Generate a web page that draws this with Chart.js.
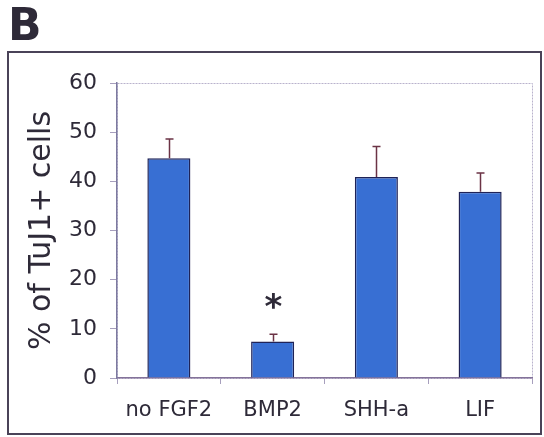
<!DOCTYPE html>
<html>
<head>
<meta charset="utf-8">
<script src="https://cdn.jsdelivr.net/npm/chart.js@4"></script>
<style>
  html, body { margin: 0; padding: 0; background: #fff; }
  #wrap { width: 544px; height: 437px; position: relative; }
</style>
</head>
<body>
<div id="wrap"><canvas id="chart" width="544" height="437"></canvas></div>
<script>
// データ
const categories = ['no FGF2', 'BMP2', 'SHH-a', 'LIF'];
const meanValues = [44.7, 7.4, 40.9, 37.9];
const errorValues = [3.9, 1.5, 6.2, 3.8];
const significance = ['', '*', '', ''];
const yTicks = [0, 10, 20, 30, 40, 50, 60];

const panelLetter = 'B';
const yTitle = '% of TuJ1+ cells';
const textColor = '#2e2a38';
const fontFamily = '"DejaVu Sans", Verdana, sans-serif';

// 枠・パネル文字
const framePlugin = {
    id: 'frame',
    beforeDraw: function (chart) {
        const ctx = chart.ctx;
        const a = chart.chartArea;
        ctx.save();
        ctx.fillStyle = textColor;
        ctx.font = 'bold 44px ' + fontFamily;
        ctx.textBaseline = 'alphabetic';
        ctx.fillText(panelLetter, 8, 40);

        ctx.strokeStyle = '#4a4358';
        ctx.lineWidth = 2;
        ctx.strokeRect(8, 52, 533, 382);

        ctx.strokeStyle = '#b9b2cc';
        ctx.lineWidth = 1;
        ctx.setLineDash([2, 1]);
        ctx.strokeRect(a.left + 0.5, a.top + 0.5, a.right - a.left, a.bottom - a.top);
        ctx.restore();
    }
};

// エラーバーと有意差マーク
const errorBarPlugin = {
    id: 'errorBars',
    afterDatasetsDraw: function (chart) {
        const ctx = chart.ctx;
        const yScale = chart.scales.y;
        const meta = chart.getDatasetMeta(0);
        ctx.save();
        meta.data.forEach(function (bar, i) {
            const yTop = yScale.getPixelForValue(meanValues[i] + errorValues[i]);
            const yBar = yScale.getPixelForValue(meanValues[i]);
            const x = Math.round(bar.x) + 0.5;
            ctx.strokeStyle = '#6b3345';
            ctx.lineWidth = 1.5;
            ctx.beginPath();
            ctx.moveTo(x, yBar);
            ctx.lineTo(x, yTop);
            ctx.moveTo(x - 4, yTop);
            ctx.lineTo(x + 4, yTop);
            ctx.stroke();

            if (significance[i]) {
                ctx.fillStyle = textColor;
                ctx.font = 'bold 34px ' + fontFamily;
                ctx.textAlign = 'center';
                ctx.textBaseline = 'alphabetic';
                ctx.fillText(significance[i], x, yTop - 16);
            }
        });
        ctx.restore();
    }
};

new Chart(document.getElementById('chart').getContext('2d'), {
    type: 'bar',
    data: {
        labels: categories,
        datasets: [{
            data: meanValues,
            backgroundColor: '#386fd3',
            borderColor: '#1f2357',
            borderWidth: 1.5,
            barPercentage: 0.415,
            categoryPercentage: 1.0
        }]
    },
    options: {
        responsive: false,
        animation: false,
        layout: { padding: { left: 0, right: 12, top: 83, bottom: 0 } },
        plugins: {
            legend: { display: false },
            tooltip: { enabled: false }
        },
        scales: {
            x: {
                grid: {
                    offset: true,
                    drawOnChartArea: false,
                    drawTicks: true,
                    tickLength: 6,
                    color: '#a79fbd'
                },
                border: { display: true, color: '#84739a', width: 1.5 },
                ticks: {
                    color: textColor,
                    padding: 14,
                    font: { family: fontFamily, size: 21 }
                },
                afterFit: function (scale) { scale.height = 59; }
            },
            y: {
                min: 0,
                max: 60,
                afterBuildTicks: function (scale) {
                    scale.ticks = yTicks.map(function (v) { return { value: v }; });
                },
                grid: {
                    drawOnChartArea: false,
                    drawTicks: true,
                    tickLength: 7,
                    color: '#a79fbd'
                },
                border: { display: true, color: '#7d7aa0', width: 1.5 },
                ticks: {
                    color: textColor,
                    padding: 13,
                    font: { family: fontFamily, size: 22 }
                },
                title: {
                    display: true,
                    text: yTitle,
                    color: textColor,
                    padding: { top: 24, bottom: 0 },
                    font: { family: fontFamily, size: 30 }
                },
                afterFit: function (scale) { scale.width = 117; }
            }
        }
    },
    plugins: [framePlugin, errorBarPlugin]
});
</script>
</body>
</html>
